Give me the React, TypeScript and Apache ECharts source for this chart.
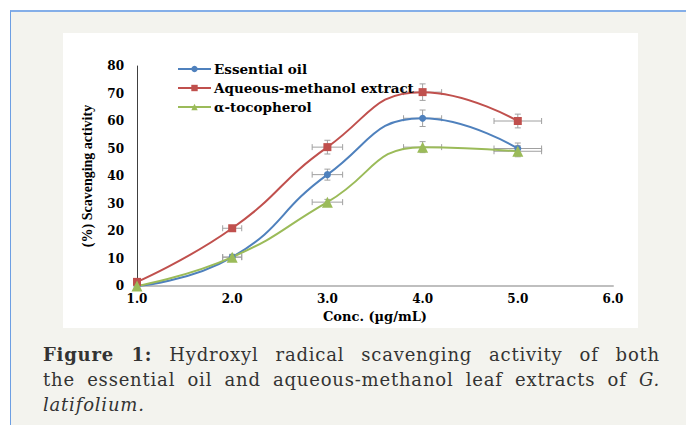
import React, { useEffect, useRef } from "react";
import * as echarts from "echarts";

const concentrations = [1.0, 2.0, 3.0, 4.0, 5.0];
const essentialOil = [0, 10.5, 40.5, 61, 50];
const aqueousMethanol = [1.5, 21, 50.5, 70.5, 60];
const tocopherol = [0, 10.5, 30.5, 50.5, 49];
const xErrors = [0, 0.1, 0.16, 0.2, 0.25];
const oilYErrors = [0, 1, 2, 3, 2];
const aqueousYErrors = [0.5, 1, 2.5, 3, 2.5];
const tocoYErrors = [0, 1, 1, 2, 2];
const seriesNames = ["Essential oil", "Aqueous-methanol extract", "α-tocopherol"];
const seriesColors = ["#4f81bd", "#c0504d", "#9bbb59"];

const FONT = "'DejaVu Serif', serif";

function errData(vals: number[], yErr: number[]) {
  return concentrations.map((x, i) => [x, vals[i], xErrors[i], yErr[i]]);
}

function renderErr(_params: any, api: any) {
  const x = api.value(0);
  const y = api.value(1);
  const ex = api.value(2);
  const ey = api.value(3);
  const style = { stroke: "#a0a0a0", lineWidth: 1 };
  const children: any[] = [];
  const cap = 3;
  if (ex > 0) {
    const l = api.coord([x - ex, y]);
    const r = api.coord([x + ex, y]);
    children.push({ type: "line", shape: { x1: l[0], y1: l[1], x2: r[0], y2: r[1] }, style });
    children.push({ type: "line", shape: { x1: l[0], y1: l[1] - cap, x2: l[0], y2: l[1] + cap }, style });
    children.push({ type: "line", shape: { x1: r[0], y1: r[1] - cap, x2: r[0], y2: r[1] + cap }, style });
  }
  if (ey > 0) {
    const t = api.coord([x, y + ey]);
    const b = api.coord([x, y - ey]);
    children.push({ type: "line", shape: { x1: t[0], y1: t[1], x2: b[0], y2: b[1] }, style });
    children.push({ type: "line", shape: { x1: t[0] - cap, y1: t[1], x2: t[0] + cap, y2: t[1] }, style });
    children.push({ type: "line", shape: { x1: b[0] - cap, y1: b[1], x2: b[0] + cap, y2: b[1] }, style });
  }
  return { type: "group", children };
}

export default function App() {
  const ref = useRef<HTMLDivElement>(null);
  useEffect(() => {
    if (!ref.current) return;
    const chart = echarts.init(ref.current, undefined, { renderer: "svg" });
    const lineData = [essentialOil, aqueousMethanol, tocopherol];
    const errs = [oilYErrors, aqueousYErrors, tocoYErrors];
    const symbols = ["circle", "rect", "triangle"];
    const sizes = [7, 8, 11];
    chart.setOption({
      animation: false,
      backgroundColor: "#ffffff",
      grid: { left: 74, right: 25, top: 33, bottom: 41 },
      legend: {
        orient: "vertical",
        left: 109,
        top: 24,
        itemWidth: 33,
        itemHeight: 8,
        itemGap: 5,
        data: seriesNames,
        textStyle: { fontFamily: FONT, fontWeight: "bold", fontSize: 13.5, color: "#000", padding: [0, 0, 0, -2] },
      },
      xAxis: {
        type: "value",
        min: 1,
        max: 6,
        interval: 1,
        name: "Conc. (µg/mL)",
        nameLocation: "middle",
        nameGap: 24,
        nameTextStyle: { fontFamily: FONT, fontWeight: "bold", fontSize: 13, color: "#000" },
        axisLine: { lineStyle: { color: "#bfbfbf", width: 2 } },
        axisTick: { show: false },
        splitLine: { show: false },
        axisLabel: {
          formatter: (v: number) => v.toFixed(1),
          fontFamily: FONT,
          fontWeight: "bold",
          fontSize: 12,
          color: "#000",
          margin: 7,
        },
      },
      yAxis: {
        type: "value",
        min: 0,
        max: 80,
        interval: 10,
        name: "(%) Scavenging activity",
        nameLocation: "middle",
        nameGap: 43,
        nameTextStyle: { fontFamily: "'Liberation Serif', serif", fontWeight: "bold", fontSize: 14, color: "#000" },
        axisLine: { show: true, lineStyle: { color: "#404040", width: 1 } },
        axisTick: { show: false },
        splitLine: { show: false },
        axisLabel: {
          fontFamily: FONT,
          fontWeight: "bold",
          fontSize: 12,
          color: "#000",
          margin: 13,
        },
      },
      series: [
        ...lineData.map((vals, i) => ({
          type: "custom",
          name: seriesNames[i] + " error",
          renderItem: renderErr,
          data: errData(vals, errs[i]),
          encode: { x: 0, y: 1 },
          z: 1,
          silent: true,
        })),
        ...lineData.map((vals, i) => ({
          type: "line",
          name: seriesNames[i],
          data: concentrations.map((x, j) => [x, vals[j]]),
          smooth: 0.5,
          symbol: symbols[i],
          symbolSize: sizes[i],
          color: seriesColors[i],
          lineStyle: { color: seriesColors[i], width: 2 },
          itemStyle: { color: seriesColors[i] },
          z: 3,
        })),
      ],
    });
    return () => chart.dispose();
  }, []);

  const lineStyle: React.CSSProperties = {
    height: 25,
    lineHeight: "25px",
    whiteSpace: "nowrap",
  };

  return (
    <div
      style={{
        position: "fixed",
        left: 0,
        top: 0,
        width: 686,
        height: 425,
        overflow: "hidden",
        background: "#ffffff",
      }}
    >
      <div
        style={{
          position: "absolute",
          left: 10,
          top: 10,
          width: 676,
          height: 415,
          background: "#f3f3ee",
          borderLeft: "1px solid #6c9ee3",
          borderTop: "2px solid #84aee8",
        }}
      />
      <div
        ref={ref}
        style={{ position: "absolute", left: 63, top: 33, width: 575, height: 295 }}
      />
      <div
        style={{
          position: "absolute",
          left: 43,
          top: 342,
          width: 617,
          fontFamily: FONT,
          fontSize: 18,
          letterSpacing: "0.8px",
          color: "#333",
        }}
      >
        <div style={{ ...lineStyle, textAlign: "justify", textAlignLast: "justify" }}>
          <b>Figure 1:</b> Hydroxyl radical scavenging activity of both
        </div>
        <div style={{ ...lineStyle, textAlign: "justify", textAlignLast: "justify" }}>
          the essential oil and aqueous-methanol leaf extracts of <i>G.</i>
        </div>
        <div style={lineStyle}>
          <i>latifolium.</i>
        </div>
      </div>
    </div>
  );
}
